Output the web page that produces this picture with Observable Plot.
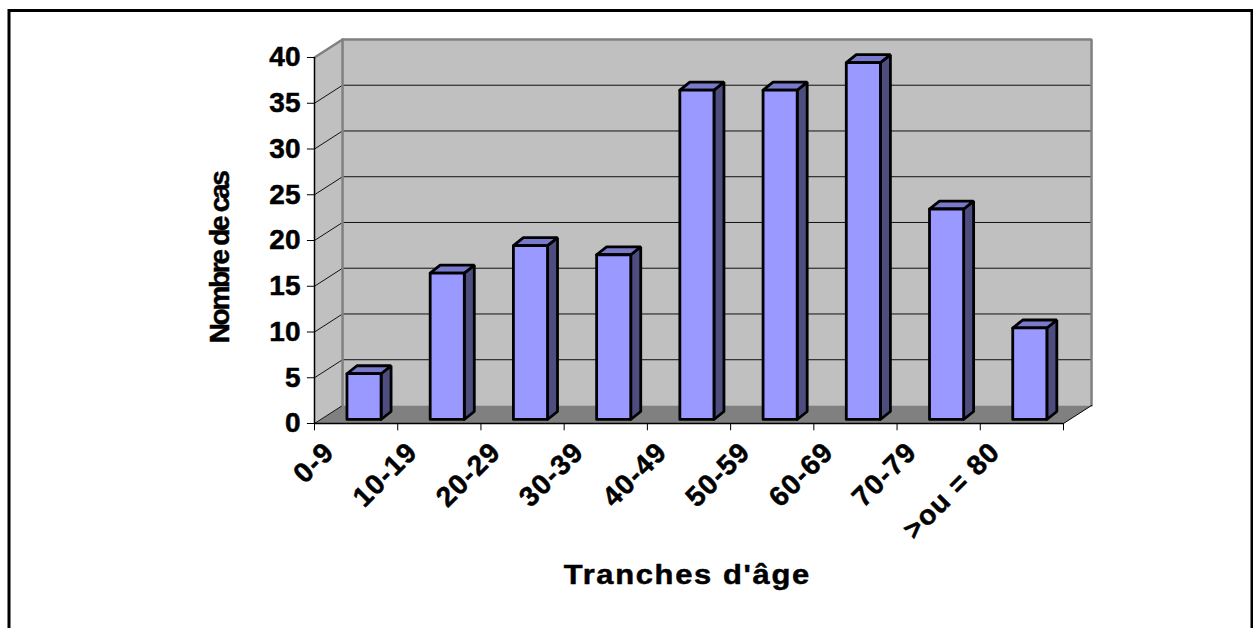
<!DOCTYPE html>
<html>
<head>
<meta charset="utf-8">
<script src="https://cdn.jsdelivr.net/npm/d3@7"></script>
<script src="https://cdn.jsdelivr.net/npm/@observablehq/plot@0.6"></script>
<style>html,body{margin:0;padding:0;background:#fff;overflow:hidden}</style>
</head>
<body>
<div id="chart"></div>
<script>
const categories = ["0-9","10-19","20-29","30-39","40-49","50-59","60-69","70-79",">ou = 80"];
const cases = [5,16,19,18,36,36,39,23,10];
const yTicks = [0,5,10,15,20,25,30,35,40];
const xTicks = [0,1,2,3,4,5,6,7,8,9];
const xTitle = "Tranches d'âge";
const yTitle = "Nombre de cas";

const N = categories.length, YMAX = 40;
// oblique projection of the 3D box, in data units
const wallDX = 0.337, wallDY = 1.97;
const barL = 0.39, barR = 0.80, barBase = 0.44, barDX = 0.12, barDY = 0.87;

const poly = (id, pts) => pts.map(([x, y]) => ({id, x, y}));
const wallPolys = [
  ...poly("back", [[wallDX,wallDY],[N+wallDX,wallDY],[N+wallDX,YMAX+wallDY],[wallDX,YMAX+wallDY],[wallDX,wallDY]]),
  ...poly("side", [[0,0],[wallDX,wallDY],[wallDX,YMAX+wallDY],[0,YMAX],[0,0]])
];
const floorPoly = poly("floor", [[0,0],[N,0],[N+wallDX,wallDY],[wallDX,wallDY],[0,0]]);
const edgeLines = poly("edge", [[0,YMAX],[wallDX,YMAX+wallDY],[N+wallDX,YMAX+wallDY],[N+wallDX,wallDY]])
  .concat(poly("edge2", [[wallDX,YMAX+wallDY],[wallDX,wallDY]]));
const gridLines = yTicks.slice(1,-1).flatMap(v => poly("g"+v, [[0,v],[wallDX,v+wallDY],[N+wallDX,v+wallDY]]))
  .concat(poly("g0", [[0,0],[wallDX,wallDY]]));
const floorEdge = poly("fe", [[N,0],[N+wallDX,wallDY]]);

const front = cases.flatMap((v,i) => poly("f"+i, [[i+barL,barBase],[i+barR,barBase],[i+barR,v+barBase],[i+barL,v+barBase],[i+barL,barBase]]));
const side = cases.flatMap((v,i) => poly("s"+i, [[i+barR,barBase],[i+barR+barDX,barBase+barDY],[i+barR+barDX,v+barBase+barDY],[i+barR,v+barBase],[i+barR,barBase]]));
const top_ = cases.flatMap((v,i) => poly("t"+i, [[i+barL,v+barBase],[i+barR,v+barBase],[i+barR+barDX,v+barBase+barDY],[i+barL+barDX,v+barBase+barDY],[i+barL,v+barBase]]));

const lineOpts = {x:"x", y:"y", z:"id"};
const font = '"Liberation Sans", Arial, sans-serif';
const textStyle = {fontSize:28, fontWeight:700, fill:"#000", stroke:"#000", strokeWidth:0.5};

const chart = Plot.plot({
  width: 1253, height: 628,
  marginLeft: 8.5, marginTop: 10, marginRight: 1.5, marginBottom: -6,
  x: {type:"linear", domain:[0,N], range:[314,1063], axis:null},
  y: {type:"linear", domain:[0,YMAX], range:[423,57], axis:null},
  style: {background:"#fff", fontFamily:font, overflow:"hidden"},
  marks: [
    Plot.frame({stroke:"#000", strokeWidth:3}),
    Plot.line(wallPolys, {...lineOpts, fill:"#C0C0C0", stroke:"none"}),
    Plot.line(floorPoly, {...lineOpts, fill:"#808080", stroke:"none"}),
    Plot.line(gridLines, {...lineOpts, stroke:"#111", strokeWidth:1, strokeLinejoin:"miter"}),
    Plot.line(edgeLines, {...lineOpts, stroke:"#808080", strokeWidth:2.5, strokeLinejoin:"miter"}),
    Plot.line(floorEdge, {...lineOpts, stroke:"#000", strokeWidth:1}),
    Plot.ruleX([0], {y1:0, y2:YMAX, stroke:"#000", strokeWidth:1.5}),
    Plot.ruleY([0], {x1:0, x2:N, stroke:"#000", strokeWidth:1.5}),
    Plot.ruleX(xTicks, {x:d=>d, y1:0, y2:-0.8, stroke:"#000", strokeWidth:1}),
    Plot.ruleY(yTicks, {y:d=>d, x1:-0.085, x2:0, stroke:"#000", strokeWidth:1}),
    Plot.line(side, {...lineOpts, fill:"#4D4D80", stroke:"#000", strokeWidth:2.8, strokeLinejoin:"miter"}),
    Plot.line(top_, {...lineOpts, fill:"#7A7ACC", stroke:"#000", strokeWidth:2.8, strokeLinejoin:"miter"}),
    Plot.line(front, {...lineOpts, fill:"#9999FF", stroke:"#000", strokeWidth:2.8, strokeLinejoin:"miter"}),
    Plot.text(yTicks, {x:()=>0, y:d=>d, text:d=>String(d), textAnchor:"end", dx:-14, ...textStyle}),
    Plot.text(categories, {x:(d,i)=>i+0.18, y:()=>-2.6, text:d=>d, textAnchor:"end", rotate:-45, ...textStyle}),
    Plot.text([xTitle], {x:()=>4.48, y:()=>-16.6, text:d=>d, ...textStyle}),
    Plot.text([yTitle], {x:()=>-1.14, y:()=>18.1, text:d=>d, rotate:-90, ...textStyle})
  ]
});
// the reference's titles and category labels have their own tracking
d3.select(chart).selectAll("text").each(function () {
  const t = this.textContent;
  if (t === xTitle) {
    this.style.letterSpacing = "1.5px";
    this.setAttribute("textLength", 247);
    this.setAttribute("lengthAdjust", "spacingAndGlyphs");
  } else if (t === yTitle) {
    this.style.letterSpacing = "-2.3px";
  } else if (categories.includes(t)) {
    this.style.letterSpacing = "1.2px";
  }
});
document.getElementById("chart").appendChild(chart);
</script>
</body>
</html>
